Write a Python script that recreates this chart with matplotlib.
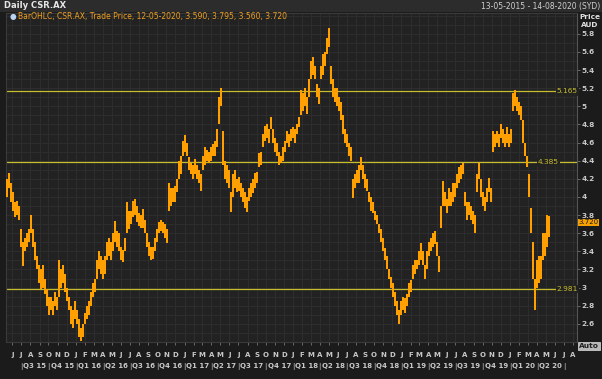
import pandas as pd
import matplotlib
matplotlib.use("Agg")
import matplotlib.pyplot as plt
from matplotlib.transforms import blended_transform_factory
from matplotlib.patches import Rectangle

# bar lows / highs, evenly spaced from 13-05-2015 to 12-05-2020
LOWS = [
    4.00, 4.10, 3.95, 3.85, 3.78, 3.80, 3.75, 3.45, 3.24, 3.40,
    3.45, 3.50, 3.60, 3.45, 3.30, 3.20, 3.05, 2.98, 3.00, 2.93,
    2.80, 2.70, 2.75, 2.70, 2.80, 2.75, 2.90, 3.00, 3.05, 2.95,
    2.85, 2.75, 2.60, 2.55, 2.65, 2.60, 2.45, 2.41, 2.45, 2.60,
    2.65, 2.70, 2.80, 2.90, 2.95, 3.10, 3.20, 3.15, 3.10, 3.15,
    3.30, 3.35, 3.30, 3.40, 3.50, 3.45, 3.40, 3.30, 3.28, 3.40,
    3.60, 3.65, 3.70, 3.78, 3.80, 3.72, 3.68, 3.66, 3.66, 3.60,
    3.45, 3.35, 3.30, 3.32, 3.40, 3.50, 3.60, 3.62, 3.60, 3.55,
    3.49, 3.85, 3.90, 3.95, 3.95, 4.05, 4.20, 4.25, 4.45, 4.50,
    4.45, 4.30, 4.25, 4.20, 4.25, 4.20, 4.15, 4.07, 4.30, 4.35,
    4.40, 4.37, 4.40, 4.45, 4.45, 4.55, 4.80, 5.00, 4.35, 4.20,
    4.15, 4.10, 3.83, 4.00, 4.10, 4.05, 4.07, 4.00, 3.95, 3.88,
    3.83, 3.96, 4.00, 4.04, 4.10, 4.15, 4.33, 4.35, 4.55, 4.62,
    4.65, 4.60, 4.75, 4.60, 4.50, 4.45, 4.35, 4.37, 4.40, 4.50,
    4.60, 4.55, 4.62, 4.65, 4.60, 4.70, 4.77, 4.90, 4.95, 5.00,
    4.92, 5.10, 5.30, 5.35, 5.30, 5.10, 5.03, 5.30, 5.35, 5.45,
    5.58, 5.65, 5.25, 5.10, 5.05, 5.00, 4.95, 4.85, 4.70, 4.60,
    4.55, 4.45, 4.40, 3.99, 4.10, 4.15, 4.15, 4.30, 4.20, 4.10,
    4.07, 3.95, 3.85, 3.82, 3.75, 3.70, 3.60, 3.50, 3.40, 3.30,
    3.20, 3.10, 3.00, 2.90, 2.80, 2.70, 2.60, 2.70, 2.75, 2.72,
    2.80, 2.90, 2.95, 3.10, 3.15, 3.20, 3.25, 3.30, 3.25, 3.10,
    3.20, 3.35, 3.40, 3.45, 3.48, 3.35, 3.17, 3.66, 3.90, 3.90,
    3.82, 3.90, 3.90, 3.95, 4.00, 4.10, 4.15, 4.20, 4.25, 3.90,
    3.75, 3.80, 3.75, 3.70, 3.60, 4.05, 4.20, 4.00, 3.90, 3.85,
    3.95, 4.05, 3.95, 4.50, 4.55, 4.60, 4.55, 4.65, 4.60, 4.55,
    4.60, 4.55, 4.60, 4.95, 5.00, 4.95, 4.90, 4.85, 4.60, 4.45,
    4.33, 4.00, 3.60, 3.10, 2.75, 3.00, 3.05, 3.10, 3.30, 3.35,
    3.45, 3.56,
]
HIGHS = [
    4.20, 4.26, 4.15, 4.05, 3.95, 3.96, 3.90, 3.65, 3.50, 3.55,
    3.60, 3.65, 3.80, 3.65, 3.50, 3.35, 3.25, 3.20, 3.25, 3.10,
    2.98, 2.90, 2.90, 2.85, 2.95, 2.90, 3.30, 3.20, 3.25, 3.15,
    3.00, 2.90, 2.80, 2.75, 2.85, 2.75, 2.65, 2.55, 2.60, 2.72,
    2.80, 2.85, 2.95, 3.05, 3.10, 3.30, 3.40, 3.35, 3.30, 3.35,
    3.50, 3.55, 3.50, 3.60, 3.74, 3.62, 3.60, 3.45, 3.42, 3.55,
    3.94, 3.85, 3.85, 3.96, 3.98, 3.90, 3.82, 3.80, 3.87, 3.75,
    3.60, 3.50, 3.45, 3.45, 3.55, 3.65, 3.72, 3.75, 3.72, 3.70,
    3.65, 4.15, 4.10, 4.10, 4.12, 4.20, 4.40, 4.45, 4.62, 4.68,
    4.60, 4.44, 4.38, 4.35, 4.42, 4.35, 4.30, 4.25, 4.45, 4.55,
    4.52, 4.50, 4.55, 4.58, 4.62, 4.75, 5.10, 5.20, 4.73, 4.40,
    4.35, 4.30, 4.05, 4.25, 4.30, 4.20, 4.22, 4.15, 4.10, 4.05,
    4.00, 4.10, 4.15, 4.20, 4.26, 4.28, 4.48, 4.50, 4.70, 4.78,
    4.80, 4.75, 4.88, 4.75, 4.65, 4.60, 4.50, 4.45, 4.55, 4.62,
    4.73, 4.70, 4.75, 4.77, 4.75, 4.80, 4.88, 5.18, 5.15, 5.20,
    5.10, 5.30, 5.50, 5.54, 5.45, 5.25, 5.20, 5.45, 5.58, 5.60,
    5.75, 5.86, 5.45, 5.30, 5.20, 5.20, 5.10, 5.05, 4.90, 4.75,
    4.70, 4.60, 4.55, 4.20, 4.25, 4.30, 4.35, 4.44, 4.35, 4.25,
    4.20, 4.05, 4.00, 3.95, 3.85, 3.80, 3.70, 3.65, 3.55, 3.44,
    3.35, 3.20, 3.12, 3.05, 2.95, 2.85, 2.75, 2.85, 2.90, 2.88,
    2.93, 3.05, 3.08, 3.25, 3.30, 3.30, 3.40, 3.49, 3.40, 3.25,
    3.40, 3.50, 3.55, 3.60, 3.63, 3.50, 3.35, 3.90, 4.18, 4.05,
    3.98, 4.10, 4.05, 4.15, 4.15, 4.25, 4.33, 4.35, 4.37, 4.05,
    3.95, 3.95, 3.90, 3.85, 3.80, 4.25, 4.38, 4.20, 4.05, 4.00,
    4.10, 4.21, 4.10, 4.73, 4.70, 4.73, 4.70, 4.80, 4.75, 4.70,
    4.77, 4.70, 4.75, 5.15, 5.18, 5.10, 5.05, 5.00, 4.85, 4.60,
    4.45, 4.25, 3.88, 3.50, 3.10, 3.30, 3.35, 3.35, 3.60, 3.60,
    3.80, 3.795,
]
LEVELS = [5.165, 4.385, 2.981]
LAST_PRICE = 3.720
MONTH_LETTERS = "JFMAMJJASOND"

BG = "#222222"
FIG_BG = "#1b1b1b"
GRID = "#2e2e2e"
TXT = "#c8c8c8"
ORANGE = "#FFA000"
LEVEL_COL = "#c8bd2c"

dates = pd.date_range("2015-05-13", "2020-05-12", periods=len(LOWS))

W, H = 602, 379
fig = plt.figure(figsize=(W / 100, H / 100), dpi=100, facecolor=FIG_BG)
left, right, top, bottom = 6, 577, 13, 342
ax = fig.add_axes([left / W, 1 - bottom / H, (right - left) / W, (bottom - top) / H])
ax.set_facecolor(BG)

ax.set_xlim(pd.Timestamp("2015-05-11"), pd.Timestamp("2020-08-14"))
ax.set_ylim(2.40, 6.03)

# grid: one line per month and per 0.1 AUD
months = pd.date_range("2015-06-01", "2020-08-01", freq="MS")
for m in months:
    ax.axvline(m, color=GRID, lw=0.7, zorder=0)
for i in range(24, 61):
    ax.axhline(i / 10, color=GRID, lw=0.7, zorder=0)

# price bars
ax.vlines(dates, LOWS, HIGHS, color=ORANGE, lw=1.45, zorder=3)

# horizontal levels with labels
trans_ay = blended_transform_factory(ax.transAxes, ax.transData)
for lv in LEVELS:
    ax.axhline(lv, color=LEVEL_COL, lw=0.9, zorder=2)
    xpos = 0.950 if lv == 4.385 else 0.983
    ax.text(xpos, lv, f"{lv:.3f}", transform=trans_ay, color=LEVEL_COL,
            fontsize=5.3, ha="center", va="center", zorder=4,
            bbox=dict(facecolor=BG, edgecolor="none", pad=0.8))

# axes styling
for s in ["left", "top", "bottom"]:
    ax.spines[s].set_color("#3a3a3a")
ax.spines["right"].set_color("#555555")
ax.yaxis.tick_right()
yt = [round(2.6 + 0.2 * i, 1) for i in range(17)]
ax.set_yticks(yt)
ax.set_yticklabels([f"{v:g}" for v in yt])
ax.tick_params(axis="y", colors="#777777", labelcolor=TXT, labelsize=5.3,
               length=2.5, width=0.6, pad=1)

ax.set_xticks(months)
ax.set_xticklabels([MONTH_LETTERS[m.month - 1] for m in months])
ax.tick_params(axis="x", colors="#777777", labelcolor=TXT, labelsize=5.0,
               length=2, width=0.6, pad=5)
for lab in ax.get_xticklabels() + ax.get_yticklabels():
    lab.set_fontweight("bold")

# quarter labels
trans_xa = ax.get_xaxis_transform()
q_starts = pd.date_range("2015-07-01", "2020-07-01", freq="QS-JAN")
for qs in q_starts:
    ax.text(qs, -0.074, "|", transform=trans_xa, color=TXT, fontsize=5.2,
            ha="center", va="center", clip_on=False)
for a, b in zip(q_starts[:-1], q_starts[1:]):
    mid = a + (b - a) / 2
    ax.text(mid, -0.074, f"Q{(a.month - 1) // 3 + 1} {a.year % 100:02d}",
            transform=trans_xa, color=TXT, fontsize=5.0, ha="center",
            va="center", fontweight="bold", clip_on=False)

# last price tag
ax.text(1.003, LAST_PRICE, f"{LAST_PRICE:.3f}", transform=trans_ay,
        color="#1a1a1a", fontsize=5.0, ha="left", va="center", clip_on=False,
        bbox=dict(facecolor="#f5a000", edgecolor="none", pad=0.4), zorder=5)

# header bar
fig.patches.append(Rectangle((0, 1 - 12 / H), 1, 12 / H, transform=fig.transFigure,
                             facecolor="#2c2c2c", edgecolor="none", zorder=0))
fig.text(4 / W, 1 - 6 / H, "Daily CSR.AX", color="#e6e6e6", fontsize=6,
         fontweight="bold", va="center", ha="left")
fig.text(600 / W, 1 - 6 / H, "13-05-2015 - 14-08-2020 (SYD)", color="#d0d0d0",
         fontsize=5.5, va="center", ha="right")
fig.text(590 / W, 1 - 17 / H, "Price", color="#e0e0e0", fontsize=5.3,
         fontweight="bold", va="center", ha="center")
fig.text(590 / W, 1 - 25 / H, "AUD", color="#e0e0e0", fontsize=5.3,
         fontweight="bold", va="center", ha="center")

# legend line
fig.text(13 / W, 1 - 17 / H, "\u25CF", color="#b8d4f0", fontsize=5.5,
         va="center", ha="center")
fig.text(18 / W, 1 - 17 / H,
         "BarOHLC, CSR.AX, Trade Price, 12-05-2020, 3.590, 3.795, 3.560, 3.720",
         color="#f0a020", fontsize=5.5, va="center", ha="left")

# Auto button
fig.text(589 / W, 1 - 346 / H, "Auto", color="#202020", fontsize=5.3,
         fontweight="bold", va="center", ha="center",
         bbox=dict(facecolor="#b8b8b8", edgecolor="#e0e0e0", pad=0.8, lw=0.5))

fig.savefig("out.png", dpi=100, facecolor=FIG_BG)
